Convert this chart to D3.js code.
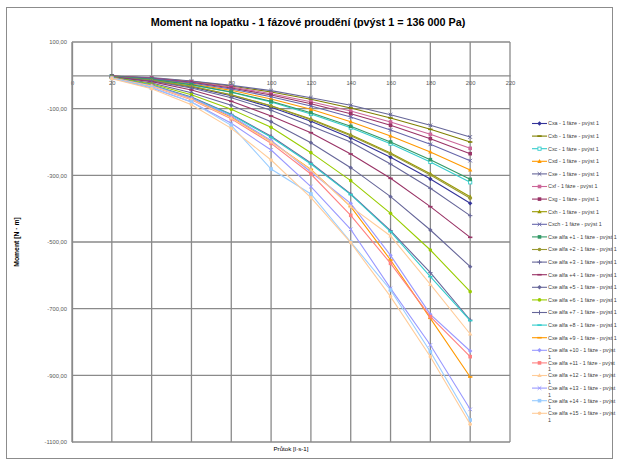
<!DOCTYPE html>
<html>
<head>
<meta charset="utf-8">
<script src="https://cdn.jsdelivr.net/npm/d3@7"></script>
<style>
  body { margin: 0; background: #fff; }
  text { font-family: "Liberation Sans", Arial, sans-serif; }
</style>
</head>
<body>
<svg id="chart" width="618" height="463"></svg>
<script>
// prutok [l/s]
var flow = [20, 40, 60, 80, 100, 120, 140, 160, 180, 200];

var xTicks = [0, 20, 40, 60, 80, 100, 120, 140, 160, 180, 200, 220];
var yTicks = [100, -100, -300, -500, -700, -900, -1100];

var seriesNames = [
    "Cxa - 1 fáze - pvýst 1", "Cxb - 1 fáze - pvýst 1", "Cxc - 1 fáze - pvýst 1",
    "Cxd  - 1 fáze - pvýst 1", "Cxe - 1 fáze - pvýst 1", "Cxf - 1 fáze - pvýst 1",
    "Cxg - 1 fáze - pvýst 1", "Cxh - 1 fáze - pvýst 1", "Cxch - 1 fáze - pvýst 1",
    "Cxe alfa +1 - 1 fáze - pvýst 1", "Cxe alfa +2 - 1 fáze - pvýst 1",
    "Cxe alfa +3 - 1 fáze - pvýst 1", "Cxe alfa +4 - 1 fáze - pvýst 1",
    "Cxe alfa +5 - 1 fáze - pvýst 1", "Cxe alfa +6 - 1 fáze - pvýst 1",
    "Cxe alfa +7 - 1 fáze - pvýst 1", "Cxe alfa +8 - 1 fáze - pvýst 1",
    "Cxe alfa +9 - 1 fáze - pvýst 1", "Cxe alfa +10 - 1 fáze - pvýst 1",
    "Cxe alfa +11 - 1 fáze - pvýst 1", "Cxe alfa +12 - 1 fáze - pvýst 1",
    "Cxe alfa +13 - 1 fáze - pvýst 1", "Cxe alfa +14 - 1 fáze - pvýst 1",
    "Cxe alfa +15 - 1 fáze - pvýst 1"
];

// moment [N.m], jedna rada na serii
var moment = [
    [-4, -15, -35, -61, -96, -138, -188, -246, -311, -384],
    [-2, -8, -18, -32, -50, -72, -98, -128, -162, -200],
    [-3, -13, -29, -51, -80, -116, -157, -205, -260, -321],
    [-3, -11, -26, -45, -71, -102, -139, -182, -230, -284],
    [-2, -7, -17, -30, -46, -67, -90, -118, -150, -185],
    [-2, -9, -20, -35, -55, -79, -107, -140, -177, -219],
    [-2, -9, -21, -38, -59, -85, -115, -150, -190, -235],
    [-4, -15, -33, -58, -91, -131, -178, -233, -295, -364],
    [-3, -10, -23, -41, -64, -92, -125, -164, -207, -256],
    [-3, -12, -28, -50, -78, -112, -153, -200, -253, -312],
    [-4, -15, -33, -59, -92, -133, -181, -236, -299, -369],
    [-4, -17, -38, -67, -105, -152, -200, -266, -339, -421],
    [-5, -19, -44, -78, -122, -172, -236, -309, -394, -486],
    [-6, -23, -52, -90, -139, -202, -277, -364, -464, -574],
    [-6, -26, -58, -102, -156, -232, -316, -414, -524, -649],
    [-7, -29, -65, -117, -183, -263, -356, -466, -592, -734],
    [-7, -30, -67, -118, -186, -266, -358, -469, -604, -736],
    [-8, -32, -70, -126, -199, -282, -394, -554, -729, -905],
    [-8, -31, -68, -122, -195, -290, -384, -540, -717, -827],
    [-8, -33, -73, -130, -204, -296, -420, -564, -724, -844],
    [-8, -32, -72, -128, -200, -284, -394, -482, -627, -776],
    [-9, -38, -80, -144, -224, -334, -462, -639, -809, -1002],
    [-9, -36, -80, -150, -281, -356, -500, -644, -829, -1034],
    [-10, -40, -88, -159, -254, -367, -502, -664, -844, -1047]
];

var seriesColors = [
    "#333399", "#808000", "#33cccc", "#ff9900", "#666699", "#cc6699",
    "#993366", "#999900", "#6666aa", "#339966", "#999933", "#666699",
    "#993366", "#666699", "#99cc00", "#666699", "#33cccc", "#ff9900",
    "#9999ff", "#ff8080", "#ffcc99", "#9999ff", "#99ccff", "#ffcc99"
];

var seriesMarkers = [
    "diamond", "dash", "squareOpen", "triangle", "x", "square",
    "square", "triangle", "x", "square", "circle", "plus",
    "dash", "diamond", "circle", "plus", "dash", "dash",
    "diamond", "square", "triangle", "x", "square", "circle"
];

var svg = d3.select("#chart");

var x = d3.scaleLinear().domain([0, 220]).range([72, 510]);
var y = d3.scaleLinear().domain([-1100, 100]).range([442, 42]);

// ramecek grafu
svg.append("rect")
    .attr("x", 6.5).attr("y", 7.5)
    .attr("width", 606).attr("height", 451)
    .attr("fill", "none")
    .attr("stroke", "#8c8c8c")
    .attr("stroke-width", 1);

svg.append("text")
    .attr("x", 308).attr("y", 26)
    .attr("text-anchor", "middle")
    .attr("font-size", 10.8)
    .attr("font-weight", "bold")
    .attr("fill", "#000")
    .text("Moment na lopatku - 1 fázové proudění (pvýst 1 = 136 000 Pa)");

// mrizka
var grid = svg.append("g");
grid.selectAll(".vgrid")
    .data(xTicks)
    .enter()
    .append("line")
    .attr("x1", function (d) { return x(d); })
    .attr("x2", function (d) { return x(d); })
    .attr("y1", y(100))
    .attr("y2", y(-1100))
    .attr("stroke", "#8a8a8a")
    .attr("stroke-width", 1.3);
grid.selectAll(".hgrid")
    .data(yTicks)
    .enter()
    .append("line")
    .attr("x1", x(0))
    .attr("x2", x(220))
    .attr("y1", function (d) { return y(d); })
    .attr("y2", function (d) { return y(d); })
    .attr("stroke", "#8a8a8a")
    .attr("stroke-width", 1.3);

// osy
var xAxis = svg.append("g")
    .attr("transform", "translate(0," + y(0) + ")")
    .call(d3.axisBottom(x).tickValues(xTicks).tickSize(0).tickPadding(6));
xAxis.select(".domain").attr("stroke", "#8a8a8a").attr("stroke-width", 1.3);
xAxis.selectAll("text").attr("font-size", 5.8).attr("fill", "#595959")
    .attr("font-family", "Liberation Sans, Arial, sans-serif");

var yAxis = svg.append("g")
    .attr("transform", "translate(" + x(0) + ",0)")
    .call(d3.axisLeft(y).tickValues(yTicks).tickSize(0).tickPadding(5)
        .tickFormat(function (d) { return (d < 0 ? "-" : "") + Math.abs(d).toFixed(2).replace(".", ","); }));
yAxis.select(".domain").attr("stroke", "#8a8a8a").attr("stroke-width", 1.3);
yAxis.selectAll("text").attr("font-size", 5.8).attr("fill", "#595959")
    .attr("font-family", "Liberation Sans, Arial, sans-serif");

svg.append("text")
    .attr("transform", "translate(19," + ((y(100) + y(-1100)) / 2) + ") rotate(-90)")
    .attr("text-anchor", "middle")
    .attr("font-size", 6.8)
    .attr("font-weight", "bold")
    .attr("fill", "#000")
    .text("Moment [N · m]");

svg.append("text")
    .attr("x", (x(0) + x(220)) / 2)
    .attr("y", 451)
    .attr("text-anchor", "middle")
    .attr("font-size", 6.2)
    .attr("fill", "#000")
    .text("Průtok [l·s-1]");

function drawMarker(g, type, color, cx, cy) {
    var s = 2.2;
    if (type == "diamond") {
        g.append("path").attr("d", "M" + cx + "," + (cy - s) + "L" + (cx + s) + "," + cy + "L" + cx + "," + (cy + s) + "L" + (cx - s) + "," + cy + "Z")
            .attr("fill", color);
    } else if (type == "square") {
        g.append("rect").attr("x", cx - 1.8).attr("y", cy - 1.8).attr("width", 3.6).attr("height", 3.6)
            .attr("fill", color);
    } else if (type == "squareOpen") {
        g.append("rect").attr("x", cx - 1.6).attr("y", cy - 1.6).attr("width", 3.2).attr("height", 3.2)
            .attr("fill", "#fff").attr("stroke", color).attr("stroke-width", 0.9);
    } else if (type == "triangle") {
        g.append("path").attr("d", "M" + cx + "," + (cy - s) + "L" + (cx + s) + "," + (cy + 1.6) + "L" + (cx - s) + "," + (cy + 1.6) + "Z")
            .attr("fill", color);
    } else if (type == "circle") {
        g.append("circle").attr("cx", cx).attr("cy", cy).attr("r", 1.8).attr("fill", color);
    } else if (type == "x") {
        g.append("path").attr("d", "M" + (cx - 1.8) + "," + (cy - 1.8) + "L" + (cx + 1.8) + "," + (cy + 1.8) + "M" + (cx + 1.8) + "," + (cy - 1.8) + "L" + (cx - 1.8) + "," + (cy + 1.8))
            .attr("stroke", color).attr("stroke-width", 1);
    } else if (type == "plus") {
        g.append("path").attr("d", "M" + (cx - 2.2) + "," + cy + "L" + (cx + 2.2) + "," + cy + "M" + cx + "," + (cy - 2.2) + "L" + cx + "," + (cy + 2.2))
            .attr("stroke", color).attr("stroke-width", 1);
    } else if (type == "dash") {
        g.append("path").attr("d", "M" + (cx - 2.2) + "," + cy + "L" + (cx + 2.2) + "," + cy)
            .attr("stroke", color).attr("stroke-width", 1.6);
    }
}

var line = d3.line()
    .x(function (d, i) { return x(flow[i]); })
    .y(function (d) { return y(d); });

var plot = svg.append("g");
moment.forEach(function (values, k) {
    var g = plot.append("g");
    g.append("path")
        .attr("d", line(values))
        .attr("fill", "none")
        .attr("stroke", seriesColors[k])
        .attr("stroke-width", 1.1);
    values.forEach(function (v, i) {
        drawMarker(g, seriesMarkers[k], seriesColors[k], x(flow[i]), y(v));
    });
});

// legenda
var legend = svg.append("g");
seriesNames.forEach(function (name, k) {
    var ly = 123.5 + k * 12.6;
    legend.append("line")
        .attr("x1", 532).attr("x2", 547)
        .attr("y1", ly).attr("y2", ly)
        .attr("stroke", seriesColors[k])
        .attr("stroke-width", 1.1);
    drawMarker(legend, seriesMarkers[k], seriesColors[k], 539.5, ly);
    var label = name;
    if (k >= 18) { label = name.slice(0, -2); }
    legend.append("text")
        .attr("x", 548).attr("y", ly + 1.9)
        .attr("font-size", 5.4)
        .attr("fill", "#404040")
        .text(label);
    if (k >= 18) {
        legend.append("text")
            .attr("x", 548).attr("y", ly + 8.4)
            .attr("font-size", 5.4)
            .attr("fill", "#404040")
            .text("1");
    }
});
</script>
</body>
</html>
